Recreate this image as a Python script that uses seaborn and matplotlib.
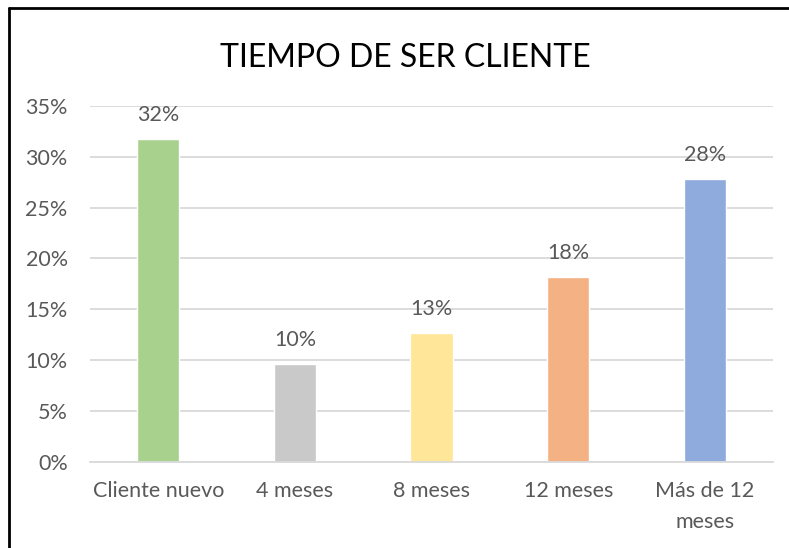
import matplotlib as mpl
import matplotlib.pyplot as plt
import pandas as pd
import seaborn as sns
from matplotlib.lines import Line2D
from matplotlib.ticker import MultipleLocator, PercentFormatter

CATEGORIES = ['Cliente nuevo', '4 meses', '8 meses', '12 meses', 'Más de 12\nmeses']
SHARES = [0.317, 0.096, 0.127, 0.182, 0.278]
LABELS = ['32%', '10%', '13%', '18%', '28%']
COLORS = ['#A9D18E', '#C9C9C9', '#FFE699', '#F4B183', '#8FAADC']

TEXT_COLOR = '#595959'
GRID_COLOR = '#D9D9D9'
FONT_SIZE = 15.5

sns.set_theme(style='white')
plt.rcParams['font.family'] = ['Lato', 'DejaVu Sans']

df = pd.DataFrame({'CATEGORY': CATEGORIES, 'SHARE': SHARES})

fig = plt.figure(figsize=(7.89, 5.48), dpi=100)
ax = fig.add_axes([0.114, 0.157, 0.866, 0.650])
ax.set_axisbelow(True)

sns.barplot(data=df, x='CATEGORY', y='SHARE', hue='CATEGORY', palette=COLORS,
            width=0.31, legend=False, ax=ax, saturation=1)

# value labels above the bars
for i, (val, lbl) in enumerate(zip(SHARES, LABELS)):
    ax.annotate(lbl, (i, val), xytext=(0, 13), textcoords='offset points',
                ha='center', va='baseline', fontsize=FONT_SIZE, color=TEXT_COLOR)

ax.set_ylim(0, 0.35)
ax.set_xlim(-0.5, 4.5)
ax.yaxis.set_major_locator(MultipleLocator(0.05))
ax.yaxis.set_major_formatter(PercentFormatter(1.0, decimals=0))
ax.grid(True, axis='y', color=GRID_COLOR, linewidth=1.3)
ax.grid(False, axis='x')
for side in ['top', 'right', 'left']:
    ax.spines[side].set_visible(False)
ax.spines['bottom'].set_color(GRID_COLOR)
ax.spines['bottom'].set_linewidth(1.3)
ax.tick_params(axis='both', length=0, labelsize=FONT_SIZE, labelcolor=TEXT_COLOR)
ax.tick_params(axis='x', pad=14)
ax.tick_params(axis='y', pad=16)
for t in ax.get_xticklabels():
    t.set_linespacing(1.65)
ax.set_xlabel(None)
ax.set_ylabel(None)

fig.text(405 / 789, 1 - 67 / 548, 'TIEMPO DE SER CLIENTE', ha='center', va='baseline',
         fontsize=23, color='black')

# chart border (only left and top edges visible in the crop)
fig.add_artist(Line2D([9 / 789, 9 / 789], [0, 1 - 8 / 548], transform=fig.transFigure, color='black', linewidth=2))
fig.add_artist(Line2D([9 / 789, 1], [1 - 8 / 548, 1 - 8 / 548], transform=fig.transFigure, color='black', linewidth=2))

plt.savefig('out.png', dpi=100)
